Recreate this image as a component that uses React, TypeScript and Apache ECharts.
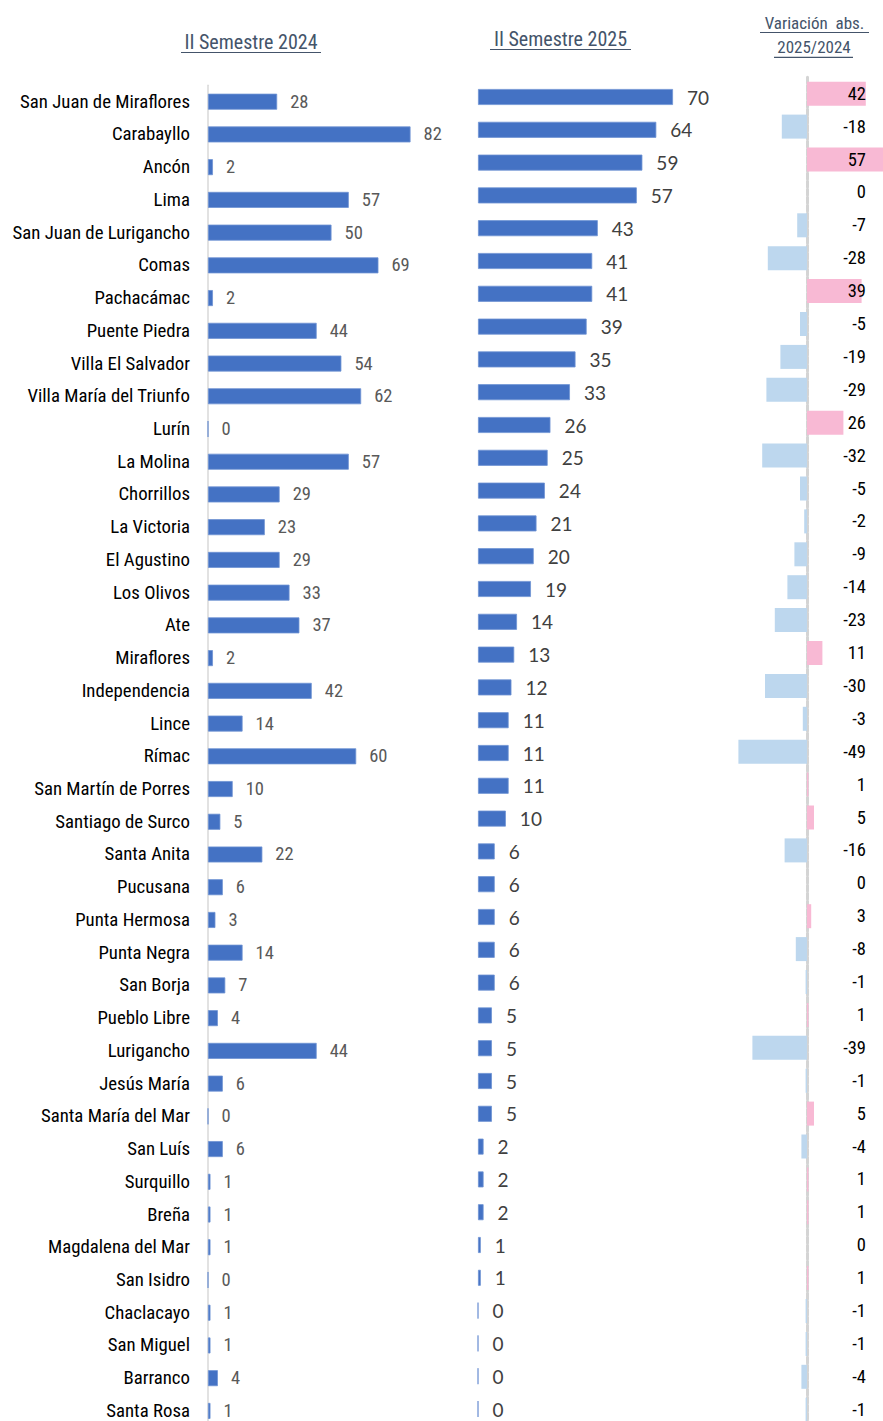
import React, { useEffect, useRef } from "react";
import * as echarts from "echarts";

const categories = [
  "San Juan de Miraflores", "Carabayllo", "Ancón", "Lima", "San Juan de Lurigancho",
  "Comas", "Pachacámac", "Puente Piedra", "Villa El Salvador", "Villa María del Triunfo",
  "Lurín", "La Molina", "Chorrillos", "La Victoria", "El Agustino",
  "Los Olivos", "Ate", "Miraflores", "Independencia", "Lince",
  "Rímac", "San Martín de Porres", "Santiago de Surco", "Santa Anita", "Pucusana",
  "Punta Hermosa", "Punta Negra", "San Borja", "Pueblo Libre", "Lurigancho",
  "Jesús María", "Santa María del Mar", "San Luís", "Surquillo", "Breña",
  "Magdalena del Mar", "San Isidro", "Chaclacayo", "San Miguel", "Barranco",
  "Santa Rosa",
];

const sem2024 = [
  28, 82, 2, 57, 50, 69, 2, 44, 54, 62,
  0, 57, 29, 23, 29, 33, 37, 2, 42, 14,
  60, 10, 5, 22, 6, 3, 14, 7, 4, 44,
  6, 0, 6, 1, 1, 1, 0, 1, 1, 4,
  1,
];

const sem2025 = [
  70, 64, 59, 57, 43, 41, 41, 39, 35, 33,
  26, 25, 24, 21, 20, 19, 14, 13, 12, 11,
  11, 11, 10, 6, 6, 6, 6, 6, 5, 5,
  5, 5, 2, 2, 2, 1, 1, 0, 0, 0,
  0,
];

const variation = [
  42, -18, 57, 0, -7, -28, 39, -5, -19, -29,
  26, -32, -5, -2, -9, -14, -23, 11, -30, -3,
  -49, 1, 5, -16, 0, 3, -8, -1, 1, -39,
  -1, 5, -4, 1, 1, 0, 1, -1, -1, -4,
  -1,
];

const titles = ["II Semestre 2024", "II Semestre 2025", "Variación  abs.", "2025/2024"];

const TITLE_COLOR = "#44546A";

function measure(text: string, family: string, size: number): number {
  const ctx = document.createElement("canvas").getContext("2d")!;
  ctx.font = `${size}px ${family}`;
  return ctx.measureText(text).width;
}

function pickNarrow(): string {
  const cands = ["Liberation Sans Narrow", "Arial Narrow", "Roboto Condensed", "Noto Sans Condensed", "Open Sans Condensed", "DejaVu Sans Condensed"];
  const test = "San Juan de Miraflores 0123456789";
  for (const f of cands) {
    const a0 = measure(test, "monospace", 20);
    const a1 = measure(test, `"${f}", monospace`, 20);
    const b0 = measure(test, "serif", 20);
    const b1 = measure(test, `"${f}", serif`, 20);
    if (a0 !== a1 || b0 !== b1) return `"${f}"`;
  }
  return '"Liberation Sans", Arial, sans-serif';
}

function fitSize(text: string, family: string, targetWidth: number, maxSize: number): number {
  const w = measure(text, family, 20);
  return Math.min(maxSize, (20 * targetWidth) / w);
}

export default function App() {
  const ref = useRef<HTMLDivElement>(null);
  useEffect(() => {
    const chart = echarts.init(ref.current!, null, { renderer: "svg" });
    const NARROW = pickNarrow();
    const catSize = fitSize("San Juan de Miraflores", NARROW, 170, 19);
    const valSize = fitSize("28", NARROW, 18.3, 20);
    const titleSize = fitSize("II Semestre 2024", NARROW, 140, 20);
    const varTitleSize = fitSize("2025/2024", NARROW, 79, 17);

    const n = categories.length;
    const band1 = 32.73, band2 = 32.8, band3 = 32.9;
    const s3 = 1.4;
    const zero3 = 807;
    const left3 = zero3 - 60 * s3;
    const right3 = left3 + 120 * s3;

    chart.setOption({
      animation: false,
      grid: [
        { left: 208, top: 101.7 - band1 / 2, width: 247, height: band1 * n },
        { left: 478, top: 97 - band2 / 2, width: 278.6, height: band2 * n },
        { left: left3, top: 93.7 - band3 / 2, width: 120 * s3, height: band3 * n },
      ],
      xAxis: [
        { gridIndex: 0, type: "value", min: 0, max: 100, show: false },
        { gridIndex: 1, type: "value", min: 0, max: 100, show: false },
        { gridIndex: 2, type: "value", min: -60, max: 60, show: false },
      ],
      yAxis: [
        {
          gridIndex: 0, type: "category", data: categories, inverse: true,
          axisLine: { show: true, lineStyle: { color: "#D9D9D9", width: 1.5 } },
          axisTick: { show: false },
          axisLabel: { margin: 18, fontFamily: NARROW, fontSize: catSize, color: "#000000" },
        },
        { gridIndex: 1, type: "category", data: categories, inverse: true, show: false },
        {
          gridIndex: 2, type: "category", data: categories, inverse: true,
          axisLine: { show: true, onZero: true, lineStyle: { color: "#D4D4D4", width: 3, type: [6, 2] } },
          axisTick: { show: false },
          axisLabel: { show: false },
        },
        {
          gridIndex: 2, type: "category", data: categories, inverse: true, z: 10,
          position: "right", offset: -(right3 - 866),
          axisLine: { show: false }, axisTick: { show: false },
          axisLabel: {
            inside: true, margin: 0, fontFamily: NARROW, fontSize: valSize, color: "#000000",
            formatter: (_v: string, i: number) => String(variation[i]),
          },
        },
      ],
      series: [
        {
          type: "bar", xAxisIndex: 0, yAxisIndex: 0, data: sem2024, barWidth: 16,
          itemStyle: { color: "#4472C4", borderColor: "#6F93D3", borderWidth: 0.8 },
          label: { show: true, position: "right", distance: 13, fontFamily: NARROW, fontSize: valSize, color: "#595959" },
        },
        {
          type: "bar", xAxisIndex: 1, yAxisIndex: 1, data: sem2025, barWidth: 16,
          itemStyle: { color: "#4472C4", borderColor: "#6F93D3", borderWidth: 0.8 },
          label: { show: true, position: "right", distance: 14, fontFamily: "Lato, 'Open Sans', sans-serif", fontSize: 19, color: "#404040" },
        },
        {
          type: "bar", xAxisIndex: 2, yAxisIndex: 2, data: variation, barWidth: 24,
          itemStyle: {
            color: (p: any) => (p.value >= 0 ? "#F8B9D4" : "#BDD7EE"),
          },
        },
      ],
      graphic: [
        { type: "text", style: { text: titles[0], x: 251, y: 41.5, align: "center", verticalAlign: "middle", fontFamily: NARROW, fontSize: titleSize, fill: TITLE_COLOR } },
        { type: "line", shape: { x1: 181, y1: 52.5, x2: 321, y2: 52.5 }, style: { stroke: TITLE_COLOR, lineWidth: 1.2 } },
        { type: "text", style: { text: titles[1], x: 560.5, y: 38.5, align: "center", verticalAlign: "middle", fontFamily: NARROW, fontSize: titleSize, fill: TITLE_COLOR } },
        { type: "line", shape: { x1: 490, y1: 49.5, x2: 631, y2: 49.5 }, style: { stroke: TITLE_COLOR, lineWidth: 1.2 } },
        { type: "text", style: { text: titles[2], x: 814.5, y: 22.5, align: "center", verticalAlign: "middle", fontFamily: NARROW, fontSize: varTitleSize, fill: TITLE_COLOR } },
        { type: "line", shape: { x1: 760, y1: 32.5, x2: 869, y2: 32.5 }, style: { stroke: TITLE_COLOR, lineWidth: 1.2 } },
        { type: "text", style: { text: titles[3], x: 814, y: 46.5, align: "center", verticalAlign: "middle", fontFamily: NARROW, fontSize: varTitleSize, fill: TITLE_COLOR } },
        { type: "line", shape: { x1: 774, y1: 57.3, x2: 853, y2: 57.3 }, style: { stroke: TITLE_COLOR, lineWidth: 1.2 } },
      ],
    });
    return () => chart.dispose();
  }, []);
  return (
    <div style={{ position: "absolute", left: 0, top: 0, width: 883, height: 1421, overflow: "hidden", background: "#ffffff" }}>
      <div ref={ref} style={{ width: 900, height: 1440 }} />
    </div>
  );
}
